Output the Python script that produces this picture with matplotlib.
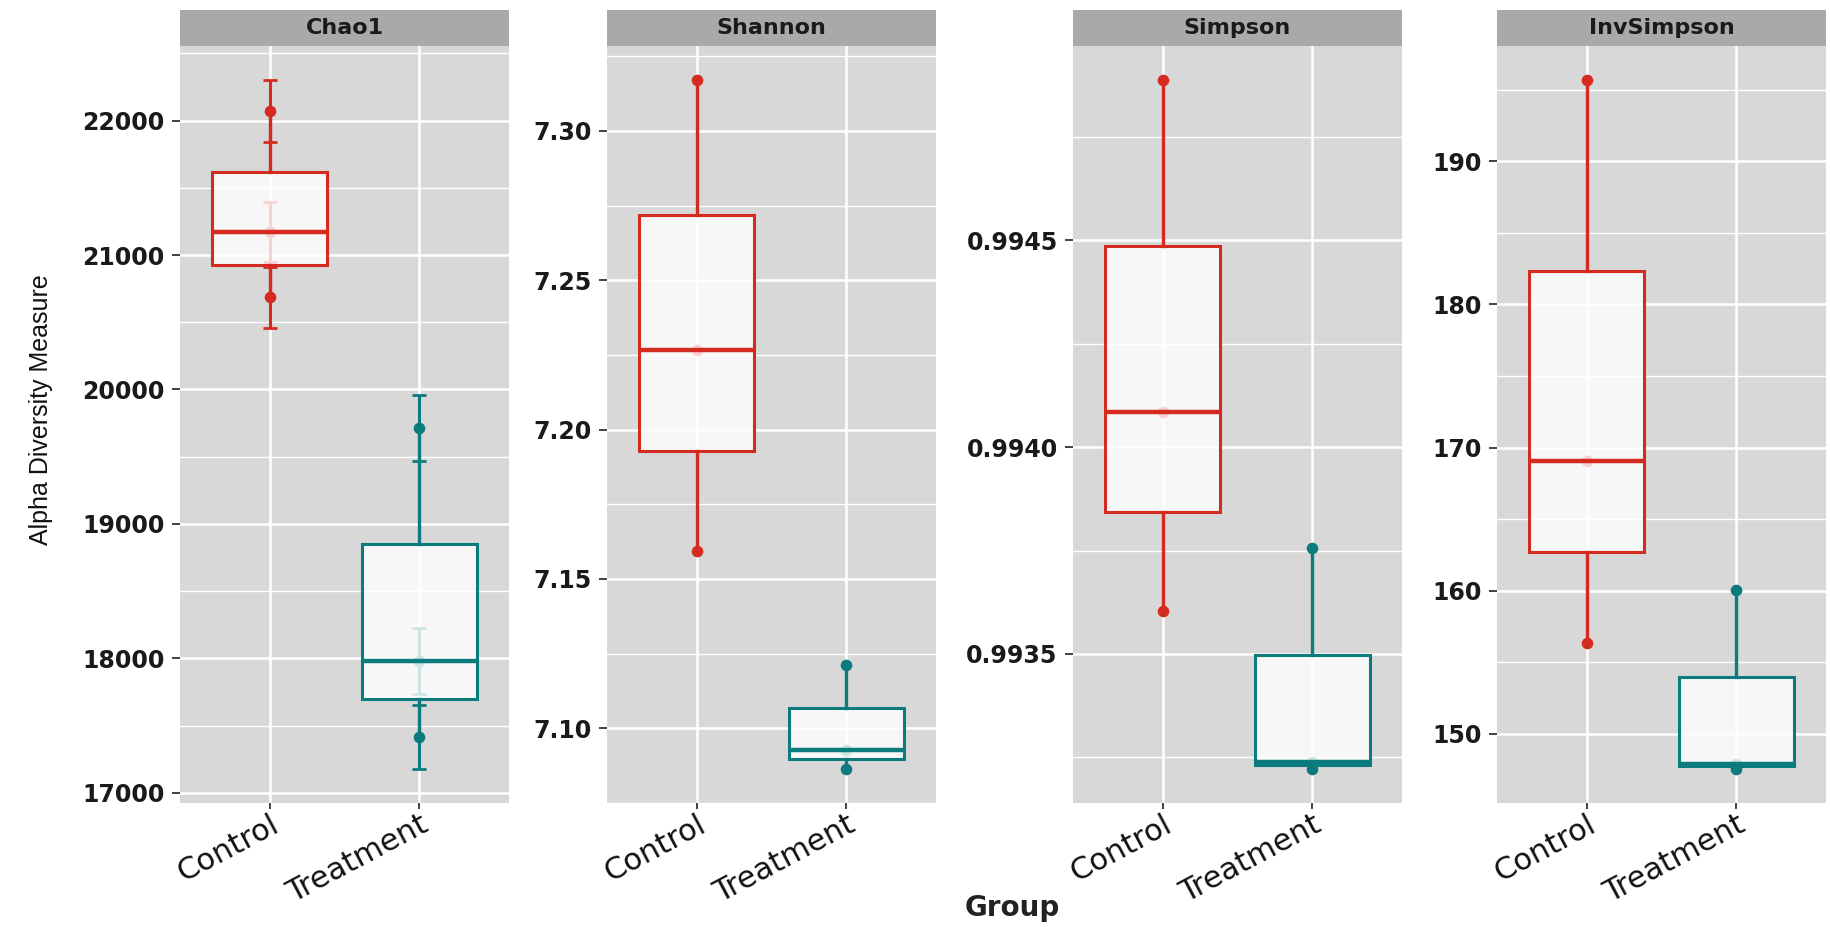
import numpy as np
import matplotlib
matplotlib.use("Agg")
import matplotlib.pyplot as plt
from matplotlib.ticker import FixedLocator, FixedFormatter

# values (3 samples per group)
groups = ["Control", "Treatment"]
measures = ["Chao1", "Shannon", "Simpson", "InvSimpson"]

chao1_control = [22069, 21170, 20685]
chao1_treatment = [19716, 17978, 17415]
chao1_se_control = [230, 225, 225]
chao1_se_treatment = [245, 245, 235]

shannon_control = [7.3169, 7.2266, 7.1592]
shannon_treatment = [7.1211, 7.0926, 7.0865]

simpson_control = [0.994886, 0.994084, 0.993604]
simpson_treatment = [0.993755, 0.993239, 0.993223]

invsimpson_control = [195.65, 169.04, 156.33]
invsimpson_treatment = [160.07, 147.87, 147.57]

chao1_ticks = [17000, 18000, 19000, 20000, 21000, 22000]
shannon_ticks = [7.10, 7.15, 7.20, 7.25, 7.30]
simpson_ticks = [0.9935, 0.9940, 0.9945]
invsimpson_ticks = [150, 160, 170, 180, 190]

panels = [
    ("Chao1", [chao1_control, chao1_treatment], [chao1_se_control, chao1_se_treatment], chao1_ticks, "{:.0f}"),
    ("Shannon", [shannon_control, shannon_treatment], None, shannon_ticks, "{:.2f}"),
    ("Simpson", [simpson_control, simpson_treatment], None, simpson_ticks, "{:.4f}"),
    ("InvSimpson", [invsimpson_control, invsimpson_treatment], None, invsimpson_ticks, "{:.0f}"),
]

colors = ["#D42A20", "#0B7B7D"]
panel_bg = "#D8D8D8"
strip_bg = "#A9A9A9"

W, H = 1831, 927
fig = plt.figure(figsize=(W / 100, H / 100), dpi=100)

lefts = [180, 607, 1073, 1497]
pw = 329
top_px, bot_px, strip_top = 46, 803, 10

for k, (name, data, errs, ticks, fmt) in enumerate(panels):
    ax = fig.add_axes([lefts[k] / W, 1 - bot_px / H, pw / W, (bot_px - top_px) / H])
    ax.set_facecolor(panel_bg)
    for s in ax.spines.values():
        s.set_visible(False)

    # y range like ggplot: data (incl. error bars) + 5 %
    lo, hi = [], []
    for g in range(2):
        v = np.array(data[g])
        e = np.array(errs[g]) if errs is not None else np.zeros_like(v)
        lo.append((v - e).min())
        hi.append((v + e).max())
    ymin, ymax = min(lo), max(hi)
    pad = (ymax - ymin) * 0.05
    ax.set_ylim(ymin - pad, ymax + pad)
    ax.set_xlim(0.4, 2.6)

    # grid
    ax.set_axisbelow(True)
    ax.yaxis.set_major_locator(FixedLocator(ticks))
    ax.yaxis.set_major_formatter(FixedFormatter([fmt.format(t) for t in ticks]))
    step = ticks[1] - ticks[0]
    minors = [ticks[0] - step / 2] + [t + step / 2 for t in ticks]
    ax.yaxis.set_minor_locator(FixedLocator(minors))
    ax.grid(which="major", axis="both", color="white", lw=1.8)
    ax.grid(which="minor", axis="y", color="white", lw=1.0)
    ax.tick_params(axis="y", which="minor", length=0)

    for g in range(2):
        x = np.full(len(data[g]), g + 1.0)
        c = colors[g]
        if errs is not None:
            ax.errorbar(x, data[g], yerr=errs[g], fmt="none", ecolor=c,
                        elinewidth=2.2, capsize=5, capthick=2, zorder=2.5)
        ax.scatter(x, data[g], s=70, color=c, zorder=2.6, linewidths=0)
        ax.boxplot([data[g]], positions=[g + 1], widths=0.77, whis=(0, 100),
                   patch_artist=True, showfliers=False, showcaps=False,
                   manage_ticks=False, zorder=3,
                   boxprops=dict(facecolor=(1, 1, 1, 0.8), edgecolor=c, lw=2.2),
                   whiskerprops=dict(color=c, lw=2.4),
                   medianprops=dict(color=c, lw=3.2))

    ax.set_xticks([1, 2])
    ax.set_xticklabels(groups, rotation=28, ha="right", va="top",
                       rotation_mode="anchor", fontsize=22,
                       family="DejaVu Sans", color="#111111")
    for lab in ax.get_yticklabels():
        lab.set_fontsize(17)
        lab.set_fontweight("bold")
        lab.set_family("DejaVu Sans")
        lab.set_color("#1a1a1a")
    ax.tick_params(axis="y", which="major", length=6, width=1.3, color="#333333", pad=5)
    ax.tick_params(axis="x", which="major", length=4, width=1.3, color="#333333", pad=1)

    # facet strip
    sax = fig.add_axes([lefts[k] / W, 1 - top_px / H, pw / W, (top_px - strip_top) / H])
    sax.set_facecolor(strip_bg)
    sax.set_xticks([])
    sax.set_yticks([])
    for s in sax.spines.values():
        s.set_visible(False)
    sax.text(0.5, 0.5, name, ha="center", va="center", fontsize=16,
             fontweight="bold", family="DejaVu Sans", color="#1a1a1a",
             transform=sax.transAxes)

fig.text(41 / W, 1 - 410 / H, "Alpha Diversity Measure", rotation=90,
         ha="center", va="center", fontsize=18,
         family=["Liberation Sans Narrow", "Liberation Sans"], color="#111111")
fig.text(1012 / W, 1 - 908 / H, "Group", ha="center", va="center",
         fontsize=20, fontweight="bold", family="DejaVu Sans", color="#222222")

fig.savefig("out.png", dpi=100, facecolor="white")
